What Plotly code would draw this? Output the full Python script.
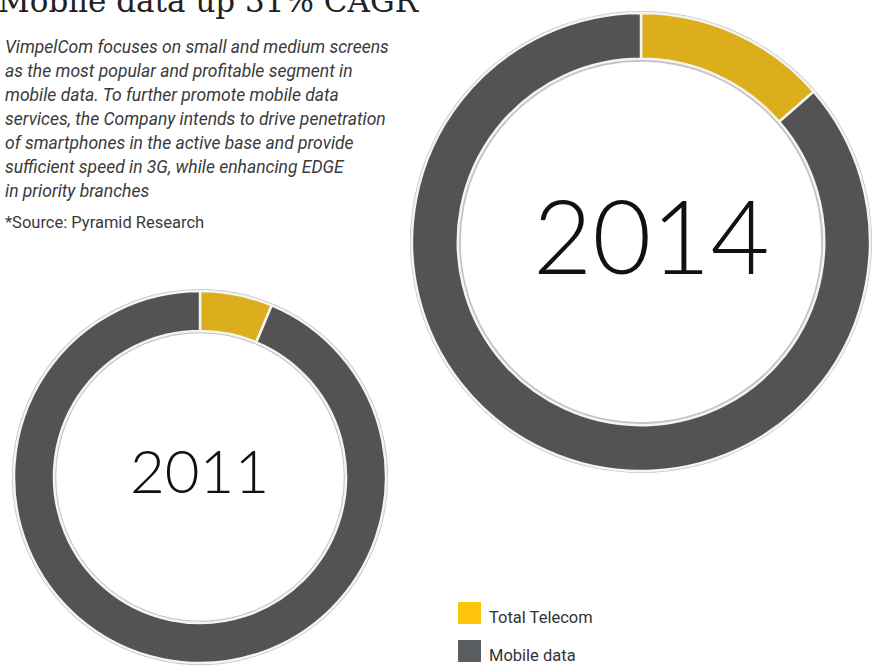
import plotly.graph_objects as go

# Share of each segment on the ring, per year
labels = ["Total Telecom", "Mobile data"]
years = ["2011", "2014"]
values_2011 = [6.3, 93.7]
values_2014 = [13.6, 86.4]

ring_colors = ["#dcae1c", "#535353"]
legend_colors = ["#ffc40c", "#5b5e61"]

title_text = "Mobile data up 31% CAGR"
body_lines = [
    "VimpelCom focuses on small and medium screens",
    "as the most popular and profitable segment in",
    "mobile data. To further promote mobile data",
    "services, the Company intends to drive penetration",
    "of smartphones in the active base and provide",
    "sufficient speed in 3G, while enhancing EDGE",
    "in priority branches",
]
source_text = "*Source: Pyramid Research"

W, H = 886, 669
TEXT_FONT = "Roboto"


def px_x(v):
    return v / W


def px_y(v):
    return 1 - v / H


def domain(cx, cy, r):
    return dict(x=[px_x(cx - r), px_x(cx + r)], y=[px_y(cy + r), px_y(cy - r)])


fig = go.Figure()

rings = [
    (values_2011, domain(200, 477, 186), 0.785, years[0], 60, (-1, 7)),
    (values_2014, domain(641, 242, 229), 0.80, years[1], 102, (10, 8)),
]

for vals, dom, hole, year, fsize, shift in rings:
    # light rim around the ring
    rim_dom = dict(
        x=[dom["x"][0] - 2 / W, dom["x"][1] + 2 / W],
        y=[dom["y"][0] - 2 / H, dom["y"][1] + 2 / H],
    )
    fig.add_trace(go.Pie(
        values=[1], labels=["rim"], domain=rim_dom, hole=hole - 0.02,
        marker=dict(colors=["#c4c4c6"], line=dict(width=0)),
        textinfo="none", hoverinfo="skip", showlegend=False, sort=False,
    ))
    fig.add_trace(go.Pie(
        values=vals, labels=labels, domain=dom, hole=hole,
        sort=False, direction="clockwise", rotation=0,
        marker=dict(colors=ring_colors, line=dict(color="#f4f4f4", width=2.5)),
        textinfo="none", showlegend=False,
    ))
    cx = (dom["x"][0] + dom["x"][1]) / 2
    cy = (dom["y"][0] + dom["y"][1]) / 2
    fig.add_annotation(
        x=cx + shift[0] / W, y=cy + shift[1] / H, xref="paper", yref="paper",
        text=year, showarrow=False, xanchor="center", yanchor="middle",
        font=dict(family="Lato", size=fsize, color="#111111", weight=300),
    )

# Headline, partly above the top edge
fig.add_annotation(
    x=-0.004, y=px_y(21), xref="paper", yref="paper", text=title_text,
    showarrow=False, xanchor="left", yanchor="bottom",
    font=dict(family="DejaVu Serif", size=31, color="#222222"),
)

# Italic body copy
for i, line in enumerate(body_lines):
    fig.add_annotation(
        x=0.003, y=px_y(47 + i * 24), xref="paper", yref="paper",
        text=f"<i>{line}</i>", showarrow=False, xanchor="left", yanchor="middle",
        font=dict(family=TEXT_FONT, size=17.5, color="#3a3a3a"),
    )

fig.add_annotation(
    x=0.003, y=px_y(223), xref="paper", yref="paper", text=source_text,
    showarrow=False, xanchor="left", yanchor="middle",
    font=dict(family=TEXT_FONT, size=16.5, color="#3a3a3a"),
)

# Legend keys
for i, (lab, col) in enumerate(zip(labels, legend_colors)):
    top = 602 + i * 38
    fig.add_shape(
        type="rect", xref="paper", yref="paper",
        x0=px_x(458), x1=px_x(481), y0=px_y(top + 22), y1=px_y(top),
        fillcolor=col, line=dict(width=0),
    )
    fig.add_annotation(
        x=px_x(487), y=px_y(top + 15), xref="paper", yref="paper", text=lab,
        showarrow=False, xanchor="left", yanchor="middle",
        font=dict(family=TEXT_FONT, size=16.5, color="#333333"),
    )

fig.update_layout(
    width=W, height=H, margin=dict(l=0, r=0, t=0, b=0),
    paper_bgcolor="white", plot_bgcolor="white",
)

fig.write_html("out.html")
